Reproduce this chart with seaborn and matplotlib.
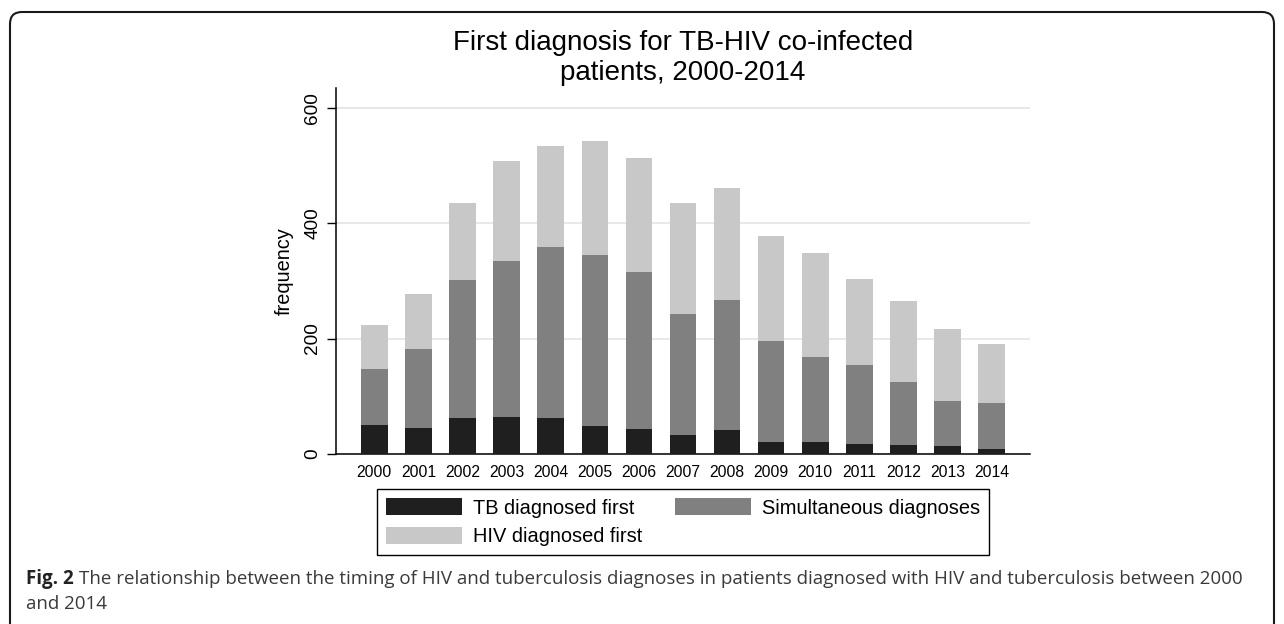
import matplotlib
matplotlib.use("Agg")
import matplotlib.pyplot as plt
from matplotlib.patches import FancyBboxPatch
import seaborn as sns
import pandas as pd

# data
years = ["2000", "2001", "2002", "2003", "2004", "2005", "2006", "2007",
         "2008", "2009", "2010", "2011", "2012", "2013", "2014"]
tb_first = [51, 45, 63, 64, 62, 49, 43, 33, 42, 20, 20, 17, 16, 13, 9]
simultaneous = [97, 137, 239, 271, 297, 296, 273, 209, 225, 176, 148, 137, 108, 78, 79]
hiv_first = [76, 95, 132, 173, 174, 198, 196, 193, 193, 181, 181, 149, 141, 126, 103]
yticks = [0, 200, 400, 600]

sns.set_style("white")
plt.rcParams['font.family'] = ['Liberation Sans', 'DejaVu Sans']
plt.rcParams['text.color'] = 'black'
plt.rcParams['axes.labelcolor'] = 'black'
plt.rcParams['xtick.color'] = 'black'
plt.rcParams['ytick.color'] = 'black'

df = pd.DataFrame({"year": years, "tb": tb_first, "sim": simultaneous, "hiv": hiv_first})
df["mid"] = df["tb"] + df["sim"]
df["total"] = df["mid"] + df["hiv"]

W, H = 1284, 624
fig = plt.figure(figsize=(W / 100, H / 100), dpi=100)
ax = fig.add_axes([336 / W, 1 - 454 / H, (1030 - 336) / W, (454 - 88) / H])

# stacked bars: draw the running totals back to front
sns.barplot(data=df, x="year", y="total", color="#c8c8c8", width=0.6, saturation=1,
            linewidth=0, label="HIV diagnosed first", ax=ax, zorder=3)
sns.barplot(data=df, x="year", y="mid", color="#808080", width=0.6, saturation=1,
            linewidth=0, label="Simultaneous diagnoses", ax=ax, zorder=3)
sns.barplot(data=df, x="year", y="tb", color="#1f1f1f", width=0.6, saturation=1,
            linewidth=0, label="TB diagnosed first", ax=ax, zorder=3)

handles, labels = ax.get_legend_handles_labels()
if ax.get_legend() is not None:
    ax.get_legend().remove()

ax.set_xlim(-0.87, len(years) - 1 + 0.87)
ax.set_ylim(0, 634)
ax.set_yticks(yticks)
ax.set_yticklabels([str(v) for v in yticks], rotation=90, va="center", fontsize=13.7)
ax.tick_params(axis="y", direction="out", length=6.5, width=1, color="black", pad=4, left=True)
ax.tick_params(axis="x", length=0, pad=8, labelsize=11.3)
ax.grid(axis="y", color="#e6e6e6", linewidth=1.3, zorder=0)
ax.set_axisbelow(True)
for s in ["top", "right"]:
    ax.spines[s].set_visible(False)
for s in ["left", "bottom"]:
    ax.spines[s].set_color("black")
    ax.spines[s].set_linewidth(1.1)
ax.set_xlabel("")
ax.set_ylabel("frequency", fontsize=14.4, labelpad=8)

# title (two lines centred over the plot area)
cx = (336 + 1030) / 2 / W
fig.text(cx, 1 - 50 / H, "First diagnosis for TB-HIV co-infected", ha="center",
         va="baseline", fontsize=20)
fig.text(cx, 1 - 80 / H, "patients, 2000-2014", ha="center", va="baseline", fontsize=20)

# legend, row-wise order in 2 columns
hmap = dict(zip(labels, handles))
order = ["TB diagnosed first", "HIV diagnosed first", "Simultaneous diagnoses"]
leg = fig.legend([hmap[k] for k in order], order, ncol=2, loc="upper center",
                 bbox_to_anchor=(cx, 1 - 489 / H), fontsize=14.4, frameon=True,
                 fancybox=False, edgecolor="black", framealpha=1, handlelength=3.8,
                 handleheight=0.95, handletextpad=0.55, columnspacing=1.65,
                 borderpad=0.45, labelspacing=0.45, borderaxespad=0)
leg.get_frame().set_linewidth(1.0)

# rounded outer frame, open at the bottom
frame = FancyBboxPatch((0.10, -0.3), 12.64, 6.12 + 0.3,
                       boxstyle="round,pad=0,rounding_size=0.12",
                       transform=fig.dpi_scale_trans, fill=False,
                       edgecolor="#1a1a1a", linewidth=1.5, clip_on=False)
fig.patches.append(frame)

# caption
cap_color = "#3a3a3a"
cap_size = 12
renderer = fig.canvas.get_renderer()
t1 = fig.text(26 / W, 1 - 584 / H, "Fig. 2", fontsize=cap_size, fontweight="bold",
              family="Open Sans", color="#222222", va="baseline")
bb = t1.get_window_extent(renderer)
t2 = fig.text((bb.x1 + 5) / W, 1 - 584 / H,
              "The relationship between the timing of HIV and tuberculosis diagnoses in "
              "patients diagnosed with HIV and tuberculosis between 2000",
              fontsize=cap_size, family="Open Sans", color=cap_color, va="baseline")
bb2 = t2.get_window_extent(renderer)
# scale caption so that the first line ends where the reference does
scale = (1239 - 26) / (bb2.x1 - bb.x0)
cap_size = cap_size * scale
t1.set_fontsize(cap_size)
bb = t1.get_window_extent(renderer)
t2.set_fontsize(cap_size)
t2.set_x((bb.x1 + 5 * scale) / W)
fig.text(26 / W, 1 - 609 / H, "and 2014", fontsize=cap_size, family="Open Sans",
         color=cap_color, va="baseline")

fig.savefig("out.png", dpi=100)
